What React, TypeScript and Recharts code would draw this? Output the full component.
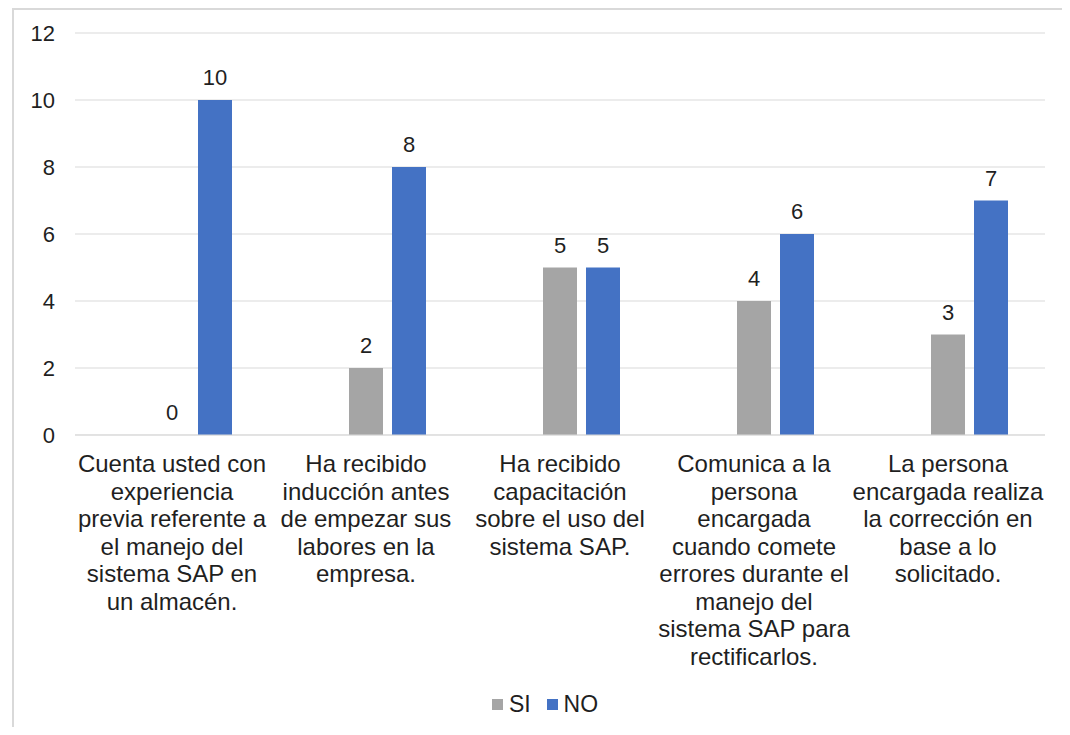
import { BarChart, Bar, XAxis, YAxis, CartesianGrid, Legend, LabelList } from 'recharts';

const preguntas = [
  'Cuenta usted con\nexperiencia\nprevia referente a\nel manejo del\nsistema SAP en\nun almacén.',
  'Ha recibido\ninducción antes\nde empezar sus\nlabores en la\nempresa.',
  'Ha recibido\ncapacitación\nsobre el uso del\nsistema SAP.',
  'Comunica a la\npersona\nencargada\ncuando comete\nerrores durante el\nmanejo del\nsistema SAP para\nrectificarlos.',
  'La persona\nencargada realiza\nla corrección en\nbase a lo\nsolicitado.',
];
const si = [0, 2, 5, 4, 3];
const no = [10, 8, 5, 6, 7];
const yTicks = [0, 2, 4, 6, 8, 10, 12];

const GRIS = '#a5a5a5';
const AZUL = '#4472c4';
const TEXTO = '#1f1f1f';

const data = preguntas.map((pregunta, i) => ({
  pregunta,
  vacio: null,
  SI: si[i],
  NO: no[i],
}));

function PreguntaTick(props: any) {
  const { x, y, payload } = props;
  const lineas = String(payload.value).split('\n');
  return (
    <text x={x} y={y} textAnchor="middle" fill={TEXTO} fontSize={24}>
      {lineas.map((l, i) => (
        <tspan key={i} x={x} dy={i === 0 ? 29 : 27.5}>
          {l}
        </tspan>
      ))}
    </text>
  );
}

// etiqueta encima de la barra, también cuando el valor es 0
function Valor(props: any) {
  const { x, y, width, value } = props;
  return (
    <text x={Number(x) + Number(width) / 2} y={Number(y) - 15} textAnchor="middle" fill={TEXTO} fontSize={22}>
      {String(value)}
    </text>
  );
}

function Leyenda() {
  const items = [
    { name: 'SI', color: GRIS },
    { name: 'NO', color: AZUL },
  ];
  return (
    <div style={{ display: 'flex', justifyContent: 'center', gap: 16, paddingLeft: 20, height: 30, alignItems: 'center' }}>
      {items.map((it) => (
        <div key={it.name} style={{ display: 'flex', alignItems: 'center' }}>
          <span style={{ width: 11, height: 11, background: it.color, display: 'inline-block', marginRight: 6 }} />
          <span style={{ fontSize: 23, color: TEXTO }}>{it.name}</span>
        </div>
      ))}
    </div>
  );
}

// un 0 necesita una altura mínima para que se dibuje su etiqueta
const alturaMinima = (v: any) => (v === 0 ? 0.01 : 0);

export default function App() {
  return (
    <div
      style={{
        width: 1062,
        height: 727,
        marginBottom: -8,
        overflow: 'hidden',
        fontFamily: '"Liberation Sans", Arial, sans-serif',
        position: 'relative',
      }}
    >
      <div
        style={{
          position: 'absolute',
          left: 4,
          top: 0,
          width: 1200,
          height: 900,
          borderLeft: '2px solid #d9d9d9',
          borderTop: '2px solid #d9d9d9',
        }}
      />
      <BarChart
        width={1054}
        height={719}
        data={data}
        margin={{ top: 25, right: 17, left: 0, bottom: 8 }}
        barSize={34}
        barGap={9}
      >
        <CartesianGrid vertical={false} stroke="#d9d9d9" />
        <XAxis
          dataKey="pregunta"
          height={254}
          tickLine={false}
          axisLine={{ stroke: '#d9d9d9' }}
          tick={<PreguntaTick />}
          interval={0}
        />
        <YAxis
          width={67}
          domain={[0, 12]}
          ticks={yTicks}
          tickLine={false}
          axisLine={false}
          tickMargin={14}
          tick={{ fill: TEXTO, fontSize: 22 }}
        />
        <Legend verticalAlign="bottom" content={<Leyenda />} wrapperStyle={{ left: 0, width: 1054 }} />
        <Bar dataKey="vacio" fill="none" legendType="none" isAnimationActive={false} />
        <Bar dataKey="SI" fill={GRIS} minPointSize={alturaMinima} isAnimationActive={false}>
          <LabelList dataKey="SI" content={<Valor />} />
        </Bar>
        <Bar dataKey="NO" fill={AZUL} isAnimationActive={false}>
          <LabelList dataKey="NO" content={<Valor />} />
        </Bar>
      </BarChart>
    </div>
  );
}
